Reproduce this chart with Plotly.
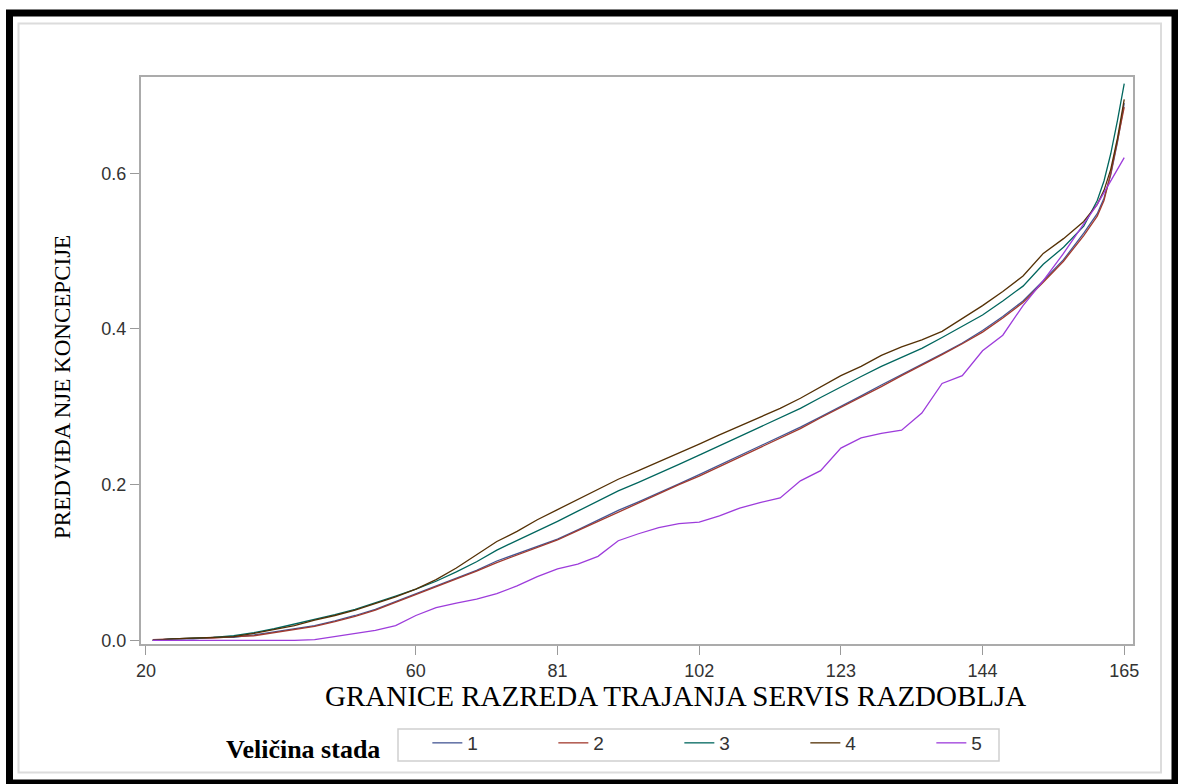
import plotly.graph_objects as go

# ---- data ----
days = [21, 24, 27, 30, 33, 36, 39, 42, 45, 48, 51, 54, 57, 60, 63, 66, 69, 72, 75, 78,
        81, 84, 87, 90, 93, 96, 99, 102, 105, 108, 111, 114, 117, 120, 123, 126, 129,
        132, 135, 138, 141, 144, 147, 150, 153, 156, 159, 161, 162, 163, 164, 165]

herd_1 = [0.000, 0.002, 0.002, 0.004, 0.004, 0.007, 0.011, 0.015, 0.019, 0.025, 0.032,
          0.040, 0.050, 0.060, 0.069, 0.079, 0.090, 0.102, 0.111, 0.120, 0.130, 0.142,
          0.155, 0.167, 0.178, 0.189, 0.201, 0.213, 0.225, 0.237, 0.249, 0.261, 0.274,
          0.287, 0.300, 0.314, 0.328, 0.341, 0.354, 0.368, 0.382, 0.398, 0.416, 0.436,
          0.462, 0.489, 0.523, 0.548, 0.568, 0.598, 0.640, 0.690]

herd_2 = [0.001, 0.002, 0.003, 0.003, 0.005, 0.006, 0.010, 0.014, 0.018, 0.024, 0.031,
          0.039, 0.049, 0.059, 0.068, 0.078, 0.089, 0.100, 0.110, 0.119, 0.129, 0.141,
          0.153, 0.165, 0.176, 0.188, 0.200, 0.211, 0.223, 0.235, 0.247, 0.260, 0.272,
          0.286, 0.299, 0.312, 0.326, 0.340, 0.353, 0.367, 0.381, 0.396, 0.414, 0.434,
          0.460, 0.487, 0.520, 0.545, 0.565, 0.600, 0.642, 0.685]

herd_3 = [0.000, 0.002, 0.003, 0.004, 0.006, 0.010, 0.015, 0.021, 0.027, 0.033, 0.040,
          0.048, 0.057, 0.066, 0.076, 0.088, 0.101, 0.116, 0.128, 0.141, 0.153, 0.166,
          0.179, 0.192, 0.203, 0.214, 0.226, 0.238, 0.250, 0.261, 0.273, 0.285, 0.298,
          0.312, 0.326, 0.339, 0.352, 0.364, 0.375, 0.389, 0.403, 0.418, 0.436, 0.455,
          0.483, 0.505, 0.532, 0.565, 0.590, 0.625, 0.668, 0.715]

herd_4 = [0.000, 0.002, 0.003, 0.004, 0.005, 0.009, 0.014, 0.019, 0.026, 0.032, 0.039,
          0.047, 0.056, 0.066, 0.078, 0.093, 0.110, 0.127, 0.140, 0.155, 0.168, 0.181,
          0.194, 0.207, 0.218, 0.229, 0.240, 0.252, 0.264, 0.275, 0.286, 0.298, 0.311,
          0.326, 0.340, 0.352, 0.366, 0.377, 0.386, 0.397, 0.413, 0.430, 0.448, 0.468,
          0.497, 0.516, 0.538, 0.560, 0.578, 0.605, 0.645, 0.695]

herd_5 = [0.000, 0.000, 0.000, 0.000, 0.000, 0.000, 0.000, 0.000, 0.001, 0.005, 0.009,
          0.013, 0.019, 0.032, 0.042, 0.048, 0.053, 0.060, 0.070, 0.082, 0.092, 0.098,
          0.108, 0.128, 0.137, 0.145, 0.150, 0.152, 0.160, 0.170, 0.177, 0.183, 0.205,
          0.218, 0.247, 0.260, 0.266, 0.270, 0.292, 0.330, 0.340, 0.372, 0.392, 0.430,
          0.462, 0.497, 0.535, 0.560, 0.575, 0.590, 0.605, 0.620]

series_names = ["1", "2", "3", "4", "5"]
x_ticks = [20, 60, 81, 102, 123, 144, 165]
y_ticks = [0.0, 0.2, 0.4, 0.6]
y_tick_text = ["0.0", "0.2", "0.4", "0.6"]
x_title = "GRANICE RAZREDA TRAJANJA SERVIS RAZDOBLJA"
y_title = "PREDVIĐA NJE KONCEPCIJE"
legend_title = "Veličina stada"

colors = ["#445694", "#A23A2E", "#01665E", "#543005", "#9D3CDB"]

# ---- figure ----
W, H = 1178, 784
L, R, T, B = 141, 1133, 77, 644


def px(p):
    return (p - L) / (R - L)


def py(p):
    return (B - p) / (B - T)


fig = go.Figure()
for name, vals, col in zip(series_names, [herd_1, herd_2, herd_3, herd_4, herd_5], colors):
    fig.add_trace(go.Scatter(x=days, y=vals, mode="lines", name=name,
                             line=dict(color=col, width=1.3)))

axis_common = dict(showline=True, mirror=True, linecolor="#ababab", linewidth=2,
                   ticks="outside", ticklen=9, tickcolor="#9a9a9a", tickwidth=1,
                   showgrid=False, zeroline=False,
                   tickfont=dict(family="Liberation Sans, Arial", size=18, color="#333333"))

fig.update_xaxes(range=[19.26, 166.3], tickvals=x_ticks, ticktext=[str(t) for t in x_ticks],
                 **axis_common)
fig.update_yaxes(range=[-0.0046, 0.7236], tickvals=y_ticks, ticktext=y_tick_text,
                 **axis_common)

shapes = [
    # outer black frame
    dict(type="rect", xref="paper", yref="paper", x0=px(9.5), x1=px(1175), y0=py(13), y1=py(783),
         line=dict(color="black", width=7), fillcolor="rgba(0,0,0,0)", layer="above"),
    # inner light gray frame
    dict(type="rect", xref="paper", yref="paper", x0=px(18.5), x1=px(1161), y0=py(23.5), y1=py(772.5),
         line=dict(color="#dcdcdc", width=2), fillcolor="rgba(0,0,0,0)", layer="above"),
    # legend box around the entries
    dict(type="rect", xref="paper", yref="paper", x0=px(398), x1=px(999), y0=py(729), y1=py(761),
         line=dict(color="#d0d0d0", width=1.5), fillcolor="rgba(0,0,0,0)", layer="above"),
]

annotations = [
    dict(text=x_title, xref="paper", yref="paper", x=px(675), y=py(696), showarrow=False,
         xanchor="center", yanchor="middle",
         font=dict(family="Liberation Serif, Times New Roman", size=29, color="black")),
    dict(text=y_title, xref="paper", yref="paper", x=px(62), y=py(387), showarrow=False,
         textangle=-90, xanchor="center", yanchor="middle",
         font=dict(family="Liberation Serif, Times New Roman", size=23, color="black")),
]

fig.update_layout(
    width=W, height=H,
    margin=dict(l=L, r=W - R, t=T, b=H - B, pad=0),
    paper_bgcolor="white", plot_bgcolor="white",
    shapes=shapes, annotations=annotations,
    showlegend=True,
    legend=dict(orientation="h", x=px(224), y=py(724), xanchor="left", yanchor="top",
                title=dict(text="<b>" + legend_title + "</b>" + "&nbsp;" * 6, side="left",
                           font=dict(family="Liberation Serif, Times New Roman", size=26,
                                     color="black")),
                font=dict(family="Liberation Sans, Arial", size=19, color="#333333"),
                entrywidth=81, entrywidthmode="pixels",
                bgcolor="rgba(0,0,0,0)", borderwidth=0),
)

fig.write_html("out.html", config={"displayModeBar": False},
               post_script="document.body.style.margin='0';document.body.style.overflow='hidden';")
